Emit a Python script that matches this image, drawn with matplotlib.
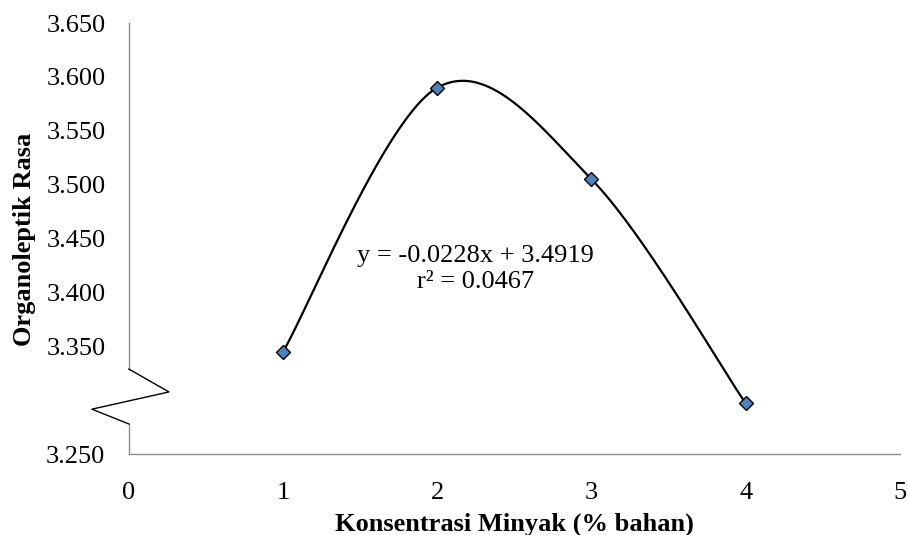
"""Organoleptik rasa vs konsentrasi minyak, Excel-style smoothed line."""

import matplotlib

matplotlib.use("Agg")
import matplotlib.pyplot as plt
import numpy as np

konsentrasi = [1, 2, 3, 4]
rasa = [3.345, 3.590, 3.505, 3.297]
y_ticks = [3.250, 3.350, 3.400, 3.450, 3.500, 3.550, 3.600, 3.650]
x_ticks = [0, 1, 2, 3, 4, 5]
equation_lines = ["y = -0.0228x + 3.4919", "r\u00b2 = 0.0467"]

plt.rcParams["font.family"] = ["Liberation Serif", "DejaVu Serif"]
FS = 19


def _smooth_curve(xs, ys, steps=60):
    # Catmull-Rom as cubic Bezier, like Excel's "smoothed line"
    pts = np.column_stack([xs, ys]).astype(float)
    padded = np.vstack([pts[0], pts, pts[-1]])
    out = []
    t = np.linspace(0.0, 1.0, steps)[:, None]
    for i in range(len(pts) - 1):
        p0, p1, p2, p3 = padded[i], padded[i + 1], padded[i + 2], padded[i + 3]
        c1 = p1 + (p2 - p0) / 6.0
        c2 = p2 - (p3 - p1) / 6.0
        seg = (1 - t) ** 3 * p1 + 3 * (1 - t) ** 2 * t * c1 + 3 * (1 - t) * t**2 * c2 + t**3 * p2
        out.append(seg if i == 0 else seg[1:])
    curve = np.vstack(out)
    return curve[:, 0], curve[:, 1]


fig = plt.figure(figsize=(9.08, 5.35), dpi=100)
ax = fig.add_axes([0.142, 0.1514, 0.849, 0.8056])

cx, cy = _smooth_curve(konsentrasi, rasa)
ax.plot(cx, cy, color="black", linewidth=1.6, zorder=2)
ax.plot(
    konsentrasi,
    rasa,
    linestyle="none",
    marker="D",
    markersize=7.5,
    markerfacecolor="#4f81bd",
    markeredgecolor="black",
    markeredgewidth=1.0,
    zorder=3,
)

ax.set_xlim(0, 5)
ax.set_ylim(3.25, 3.65)
ax.set_xticks(x_ticks)
ax.set_yticks(y_ticks)
ax.set_yticklabels([f"{v:.3f}" for v in y_ticks])
ax.tick_params(axis="both", length=0, labelsize=FS)
ax.tick_params(axis="x", pad=20)
ax.tick_params(axis="y", pad=17)

for side in ["top", "right", "left"]:
    ax.spines[side].set_visible(False)
ax.spines["bottom"].set_color("#8a8a8a")
ax.spines["bottom"].set_linewidth(1.0)

# broken y axis drawn by hand
axis_kw = dict(transform=ax.transAxes, clip_on=False, linewidth=1.0)
ax.plot([0, 0], [0.197, 1.0], color="#8a8a8a", **axis_kw)
ax.plot([0, 0], [0.0, 0.0696], color="#8a8a8a", **axis_kw)
ax.plot(
    [0, 0.0519, -0.048, 0],
    [0.197, 0.144, 0.104, 0.0696],
    color="black",
    **axis_kw,
)

ax.text(2.25, 3.4282, equation_lines[0], fontsize=FS, ha="center", va="baseline")
ax.text(2.25, 3.4040, equation_lines[1], fontsize=FS, ha="center", va="baseline")

fig.text(514 / 908, 4 / 535, "Konsentrasi Minyak (% bahan)", fontsize=FS,
         fontweight="bold", ha="center", va="baseline")
fig.text(25 / 908, 1 - 239 / 535, "Organoleptik Rasa", fontsize=FS,
         fontweight="bold", rotation=90, ha="center", va="center")

fig.savefig("out.png", dpi=100)
